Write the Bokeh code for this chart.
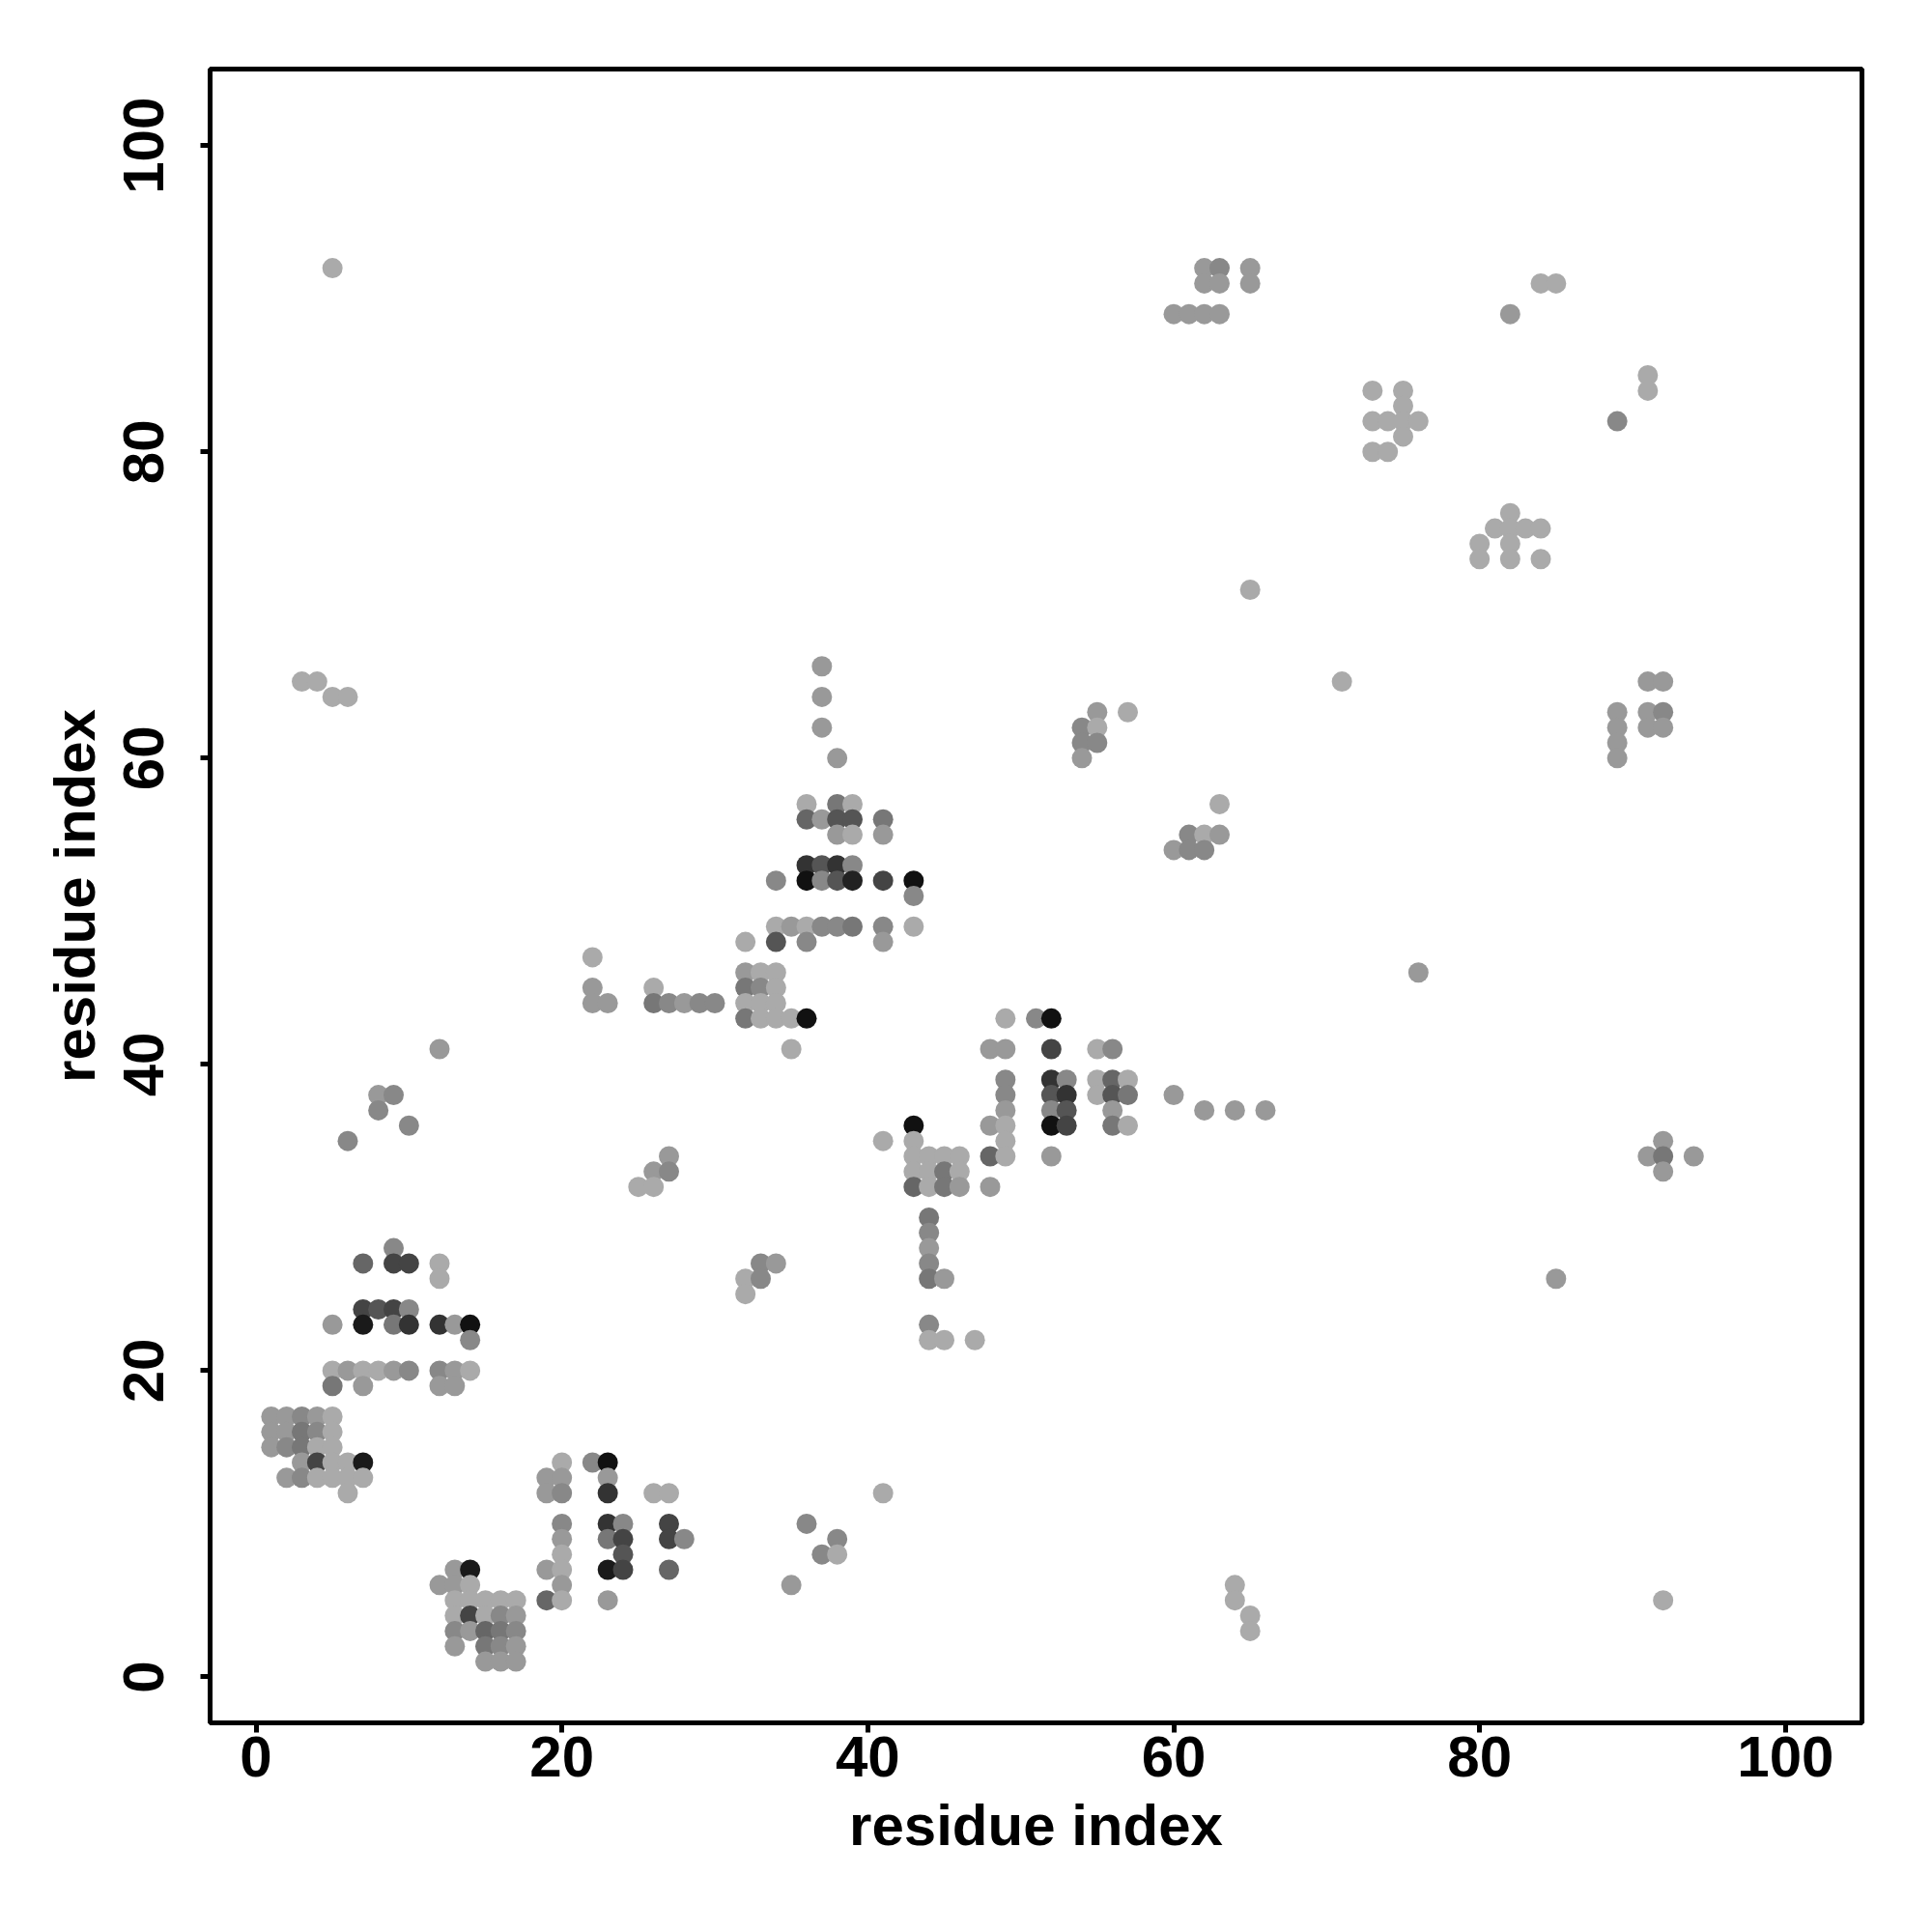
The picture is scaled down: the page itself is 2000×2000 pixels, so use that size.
from bokeh.plotting import figure
from bokeh.models import ColumnDataSource, Range1d, FixedTicker
from bokeh.embed import file_html
from bokeh.resources import INLINE

# contact map: for each row (residue j) the residues i in contact and the grey level of the dot
rows_y = [
    28, 27, 26, 24, 23, 22, 20, 19, 17, 16, 15, 14, 13, 12,
    14, 13, 12, 10, 9, 8, 7, 6, 5, 4, 3, 2, 1,
    66, 64, 62, 60, 57, 56, 55, 53, 52, 51, 49, 48, 47, 46, 45, 44, 43, 41,
    36, 35, 34, 33, 32, 30, 29, 28, 27, 26, 23, 22, 34, 33, 32, 27, 26, 25,
    43, 41, 39, 38, 37, 36, 35, 34, 32,
    92, 91, 89, 91, 89, 84, 83, 82, 81, 80, 76, 75, 74, 73, 71,
    63, 62, 61, 60, 57, 55, 54,
    65, 63, 62, 61, 60, 35, 34, 33,
    82, 85, 84, 65, 46, 26, 5, 6, 5, 4, 3,
    12, 10, 9, 8, 6,
    41, 38, 37, 36, 35, 65, 64, 92,
]
rows_x = [
    [9], [7, 9, 10, 12], [12], [7, 8, 9, 10], [5, 7, 9, 10, 12, 13, 14], [14],
    [5, 6, 7, 8, 9, 10, 12, 13, 14], [5, 7, 12, 13], [1, 2, 3, 4, 5], [1, 2, 3, 4, 5],
    [1, 2, 3, 4, 5], [3, 4, 5, 6, 7], [2, 3, 4, 5, 6, 7], [6],
    [20, 22, 23], [19, 20, 23], [19, 20, 23, 26, 27], [20, 23, 24, 27], [20, 23, 24, 27, 28],
    [20, 24], [13, 14, 19, 20, 23, 24, 27], [12, 13, 14, 20], [13, 14, 15, 16, 17, 19, 20, 23],
    [13, 14, 15, 16, 17], [13, 14, 15, 16, 17], [13, 15, 16, 17], [15, 16, 17],
    [37], [37], [37], [38], [36, 38, 39], [36, 37, 38, 39, 41], [38, 39, 41], [36, 37, 38, 39],
    [34, 36, 37, 38, 39, 41, 43], [43], [34, 35, 36, 37, 38, 39, 41, 43], [32, 34, 36, 41], [22],
    [32, 33, 34], [22, 26, 32, 33, 34], [22, 23, 26, 27, 28, 29, 30, 32, 33, 34],
    [32, 33, 34, 35, 36], [35],
    [43], [41, 43], [43, 44, 45, 46], [43, 44, 45, 46], [43, 44, 45, 46], [44], [44], [44], [44],
    [44, 45], [44], [44, 45, 47], [27], [26, 27], [25, 26], [33, 34], [32, 33], [32],
    [49, 51, 52], [48, 49, 52, 55, 56], [49, 52, 53, 55, 56, 57], [49, 52, 53, 55, 56, 57, 60],
    [49, 52, 53, 56, 62, 64, 66], [48, 49, 52, 53, 56, 57], [49], [48, 49, 52], [48],
    [62, 63, 65], [62, 63, 65], [60, 61, 62, 63], [84, 85], [82], [73, 75], [75], [73, 74, 75, 76],
    [75], [73, 74], [82], [81, 82, 83, 84], [80, 82], [80, 82, 84], [65],
    [55, 57], [54, 55], [54, 55], [54], [63], [61, 62, 63], [60, 61, 62],
    [91, 92], [89, 91, 92], [89, 91, 92], [89], [89], [92], [91, 92, 94], [92],
    [89], [91], [91], [71], [76], [85], [92], [64], [64], [65], [65],
    [41], [36], [38], [37, 38], [35],
    [12], [8, 9], [8], [10], [6], [3, 4], [5, 6], [5],
]
rows_g = [
    [136], [102, 68, 68, 170], [170], [68, 85, 68, 136], [153, 26, 119, 51, 51, 153, 17], [136],
    [170, 153, 170, 170, 153, 136, 136, 153, 170], [119, 153, 153, 153], [153, 153, 136, 153, 170],
    [153, 153, 119, 136, 170], [153, 136, 119, 170, 170], [153, 68, 170, 170, 26],
    [153, 136, 170, 170, 170, 170], [170],
    [170, 136, 17], [153, 153, 153], [153, 136, 51, 170, 170], [136, 51, 136, 68],
    [153, 119, 68, 68, 136], [170, 85], [153, 26, 153, 170, 26, 68, 102], [153, 153, 170, 153],
    [170, 170, 170, 170, 170, 102, 170, 153], [170, 68, 170, 136, 153], [136, 153, 102, 119, 136],
    [153, 119, 136, 153], [153, 153, 153],
    [153], [153], [153], [153], [170, 119, 170], [102, 153, 85, 85, 119], [153, 170, 153],
    [51, 85, 51, 136], [136, 17, 136, 85, 34, 68, 17], [136],
    [170, 153, 170, 136, 136, 119, 136, 170], [170, 85, 136, 153], [170], [153, 170, 170],
    [153, 170, 119, 136, 170], [153, 153, 119, 136, 153, 136, 136, 170, 170, 170],
    [119, 170, 170, 170, 17], [170],
    [17], [170, 170], [170, 170, 170, 170], [170, 170, 119, 170], [102, 170, 119, 153], [119],
    [136], [153], [136], [119, 153], [136], [170, 170, 170], [153], [153, 136], [170, 170],
    [136, 153], [170, 136], [170],
    [170, 136, 17], [153, 153, 68, 170, 136], [136, 51, 136, 170, 102, 170],
    [136, 85, 51, 170, 85, 119, 153], [153, 136, 85, 153, 153, 153, 153],
    [153, 170, 17, 68, 119, 170], [170], [102, 170, 153], [153],
    [153, 136, 153], [153, 153, 153], [153, 153, 153, 153], [170, 170], [153], [170, 170], [170],
    [170, 170, 170, 170], [170], [170, 170], [170], [170, 170, 170, 170], [170, 170],
    [170, 170, 170], [170],
    [153, 170], [136, 170], [136, 136], [153], [170], [136, 170, 153], [153, 136, 136],
    [153, 153], [153, 153, 136], [153, 153, 153], [153], [153], [153], [153, 119, 153], [153],
    [136], [170], [170], [170], [153], [153], [170], [170], [170], [170], [170],
    [170], [136], [136], [136, 170], [153],
    [153], [153, 136], [136], [136], [136], [170, 170], [170, 170], [170],
]

tick_values = [0, 20, 40, 60, 80, 100]
x_title = "residue index"
y_title = "residue index"

xs, ys, grey = [], [], []
for yv, xr, gr in zip(rows_y, rows_x, rows_g):
    for xv, gv in zip(xr, gr):
        xs.append(xv)
        ys.append(yv)
        grey.append(gv)
colors = ["#{0:02x}{0:02x}{0:02x}".format(g) for g in grey]
src = ColumnDataSource(dict(x=xs, y=ys, c=colors))

p = figure(width=1984, height=1984, output_backend="svg", toolbar_location=None,
           x_range=Range1d(-3, 105), y_range=Range1d(-3, 105),
           min_border_left=217, min_border_right=57, min_border_top=71, min_border_bottom=201)
p.scatter("x", "y", source=src, size=21, fill_color="c", line_color=None)
p.grid.visible = False
p.outline_line_color = "black"
p.outline_line_width = 5
p.background_fill_color = "white"
p.border_fill_color = "white"

for ax, title in ((p.xaxis[0], x_title), (p.yaxis[0], y_title)):
    ax.ticker = FixedTicker(ticks=tick_values)
    ax.axis_line_color = None
    ax.major_tick_in = 0
    ax.major_tick_out = 10
    ax.major_tick_line_width = 5
    ax.minor_tick_line_color = None
    ax.major_label_text_font = "Liberation Sans"
    ax.major_label_text_font_style = "bold"
    ax.major_label_text_font_size = "60px"
    ax.major_label_text_color = "black"
    ax.axis_label = title
    ax.axis_label_text_font = "Liberation Sans"
    ax.axis_label_text_font_style = "bold"
    ax.axis_label_text_font_size = "60px"
    ax.axis_label_text_color = "black"

p.xaxis[0].major_label_standoff = 4
p.xaxis[0].axis_label_standoff = 14
p.yaxis[0].major_label_orientation = "vertical"
p.yaxis[0].major_label_standoff = 38
p.yaxis[0].axis_label_standoff = 15

open("out.html", "w").write(file_html(p, INLINE))
